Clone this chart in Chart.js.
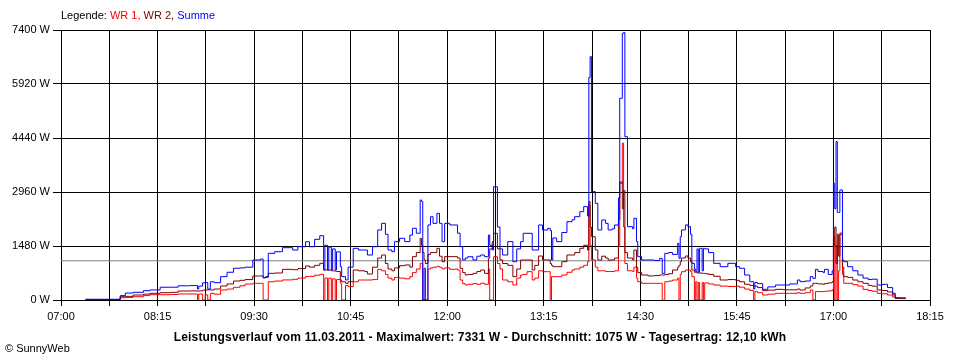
<!DOCTYPE html>
<html>
<head>
<meta charset="utf-8">
<script src="https://cdn.jsdelivr.net/npm/chart.js@4"></script>
<style>
    body { margin: 0; background: #fff; }
    #wrap { position: relative; width: 960px; height: 360px; font-family: "Liberation Sans", Arial, sans-serif; color: #000; }
    #wrap canvas { position: absolute; left: 0; top: 0; }
    .legend { position: absolute; left: 61px; top: 9px; font-size: 11px; }
    .title { position: absolute; left: 0; width: 960px; top: 330px; text-align: center; font-weight: bold; font-size: 12px; letter-spacing: 0.17px; }
    .copy { position: absolute; left: 5px; top: 342px; font-size: 11px; }
</style>
</head>
<body>
<div id="wrap">
    <canvas id="powerChart" width="960" height="360"></canvas>
    <div class="legend">Legende: <span style="color:#ff0000">WR 1,</span> <span style="color:#800000">WR 2,</span> <span style="color:#0000ff">Summe</span></div>
    <div class="title">Leistungsverlauf vom 11.03.2011 - Maximalwert: 7331 W - Durchschnitt: 1075 W - Tagesertrag: 12,10 kWh</div>
    <div class="copy">© SunnyWeb</div>
</div>
<script>
// sample times and power values (W)
let times = ['07:19','07:46','07:50','07:56','08:04','08:09','08:17','08:25','08:31','08:40',
    '08:46','08:47','08:50','08:52','08:54','08:56','08:59','09:04','09:09','09:14',
    '09:19','09:23','09:29','09:35','09:37','09:39','09:41','09:46','09:52','10:00',
    '10:04','10:10','10:13','10:17','10:21','10:24','10:25','10:27','10:28','10:30',
    '10:31','10:33','10:34','10:37','10:38','10:41','10:43','10:47','10:51','10:56',
    '10:58','11:02','11:06','11:09','11:12','11:14','11:17','11:19','11:23','11:27',
    '11:31','11:33','11:36','11:39','11:40','11:41','11:42','11:43','11:45','11:47',
    '11:49','11:52','11:54','11:56','11:58','12:02','12:06','12:08','12:10','12:12',
    '12:14','12:16','12:20','12:23','12:26','12:29','12:32','12:33','12:35','12:36',
    '12:39','12:41','12:43','12:47','12:51','12:54','12:57','12:59','13:02','13:06',
    '13:08','13:11','13:14','13:18','13:20','13:21','13:22','13:25','13:29','13:33',
    '13:37','13:39','13:43','13:46','13:49','13:50','13:51','13:52','13:55','13:57',
    '14:00','14:03','14:05','14:08','14:10','14:13','14:14','14:16','14:17','14:18',
    '14:20','14:24','14:25','14:27','14:28','14:31','14:36','14:41','14:45','14:47',
    '14:49','14:52','14:55','14:59','15:00','15:01','15:02','15:05','15:07','15:09',
    '15:10','15:12','15:13','15:14','15:15','15:16','15:18','15:19','15:20','15:23',
    '15:27','15:32','15:38','15:44','15:47','15:51','15:55','15:58','15:59','16:01',
    '16:05','16:09','16:15','16:21','16:26','16:32','16:34','16:38','16:42','16:44',
    '16:46','16:48','16:52','16:53','16:56','16:59','17:00','17:01','17:02','17:03',
    '17:04','17:05','17:07','17:08','17:11','17:15','17:19','17:23','17:27','17:30',
    '17:34','17:38','17:42','17:46','17:48','17:52','17:56'];

let wr1 = [10,60,70,90,120,145,145,150,165,165,
    0,165,0,140,0,180,160,274,300,348,
    390,438,457,457,0,0,500,520,550,567,
    600,640,650,680,704,0,600,0,600,0,
    580,0,560,457,0,400,366,500,548,548,
    548,560,840,800,700,600,548,620,600,580,
    640,750,850,1005,1000,0,0,0,850,880,
    900,920,896,850,880,840,850,820,548,450,
    411,430,450,430,460,430,850,0,0,1188,
    1000,850,548,500,411,600,685,700,776,548,
    600,800,776,776,0,640,640,640,685,760,
    822,850,900,950,1050,2600,1500,1100,900,800,
    800,780,780,780,800,1500,3200,4300,2000,1000,
    800,780,900,600,500,457,457,457,457,0,
    500,520,548,600,0,700,776,822,822,780,
    640,0,500,0,480,0,480,0,470,440,
    411,380,370,380,350,300,260,0,230,200,
    137,160,183,183,183,200,183,200,274,0,
    230,230,228,240,250,280,1735,0,1500,0,
    800,1836,700,457,457,420,380,292,260,240,
    183,170,137,80,46,40,30];

let wr2 = [10,90,100,137,160,183,200,210,247,250,
    240,250,270,274,280,275,300,384,440,520,
    540,560,658,660,610,620,731,740,840,830,
    860,932,900,950,1005,830,822,820,820,800,
    800,790,780,548,500,457,500,822,800,780,
    713,900,1150,1233,1000,850,800,880,940,960,
    900,1188,1300,1690,1500,1300,1100,1000,1250,1300,
    1300,1417,1200,1050,1188,1188,1188,1150,868,750,
    685,700,730,780,822,730,1150,1400,1600,1828,
    1400,1100,1000,950,640,850,1096,1096,1096,822,
    950,1206,1100,1100,1000,950,913,913,1050,1233,
    1233,1300,1417,1500,1370,2695,2000,1735,1370,1096,
    1200,1150,1096,1100,1150,2200,3234,2500,3000,1300,
    1150,1100,1370,900,750,685,660,670,685,685,
    700,720,822,900,950,1050,1150,1206,1150,1050,
    822,760,760,740,740,740,731,731,720,700,
    650,548,560,540,500,430,400,380,380,340,
    256,270,292,280,280,300,274,330,384,457,
    457,440,430,450,470,502,1500,2000,1000,1800,
    1200,1800,900,640,620,548,500,457,400,380,
    274,260,220,140,46,40,30];

let summe = [20,120,190,210,255,275,350,350,390,395,
    300,380,470,480,300,500,475,640,760,870,
    880,900,1096,1124,610,640,1280,1324,1434,1370,
    1461,1598,1460,1663,1763,822,1500,822,1450,822,
    1400,822,1320,913,640,550,900,1417,1370,1370,
    1233,1461,1919,2101,1800,1370,1324,1598,1690,1600,
    1780,1965,1830,2741,2700,0,870,0,2056,2283,
    2101,2376,2101,1598,2101,2056,2056,1830,1461,1096,
    1150,1187,1096,1200,1233,1187,1782,1500,1370,3106,
    2000,1400,1233,1600,1050,1400,1598,1828,1828,1370,
    1370,2056,1919,1965,1900,1096,1700,1600,1850,2147,
    2200,2284,2421,2558,2300,6100,6670,2970,2650,1919,
    2193,2100,1919,1950,2056,2800,5528,7310,7331,4476,
    2010,1950,2238,1600,1188,1096,1096,1080,1142,731,
    1279,1300,1250,1553,1142,1735,1919,2056,2010,1800,
    1005,850,776,1400,760,1417,800,1417,1400,1300,
    1005,913,1005,913,870,685,502,300,480,450,
    292,360,411,411,440,548,502,520,640,594,
    840,780,750,840,700,800,3197,2500,4340,2400,
    2400,3015,1096,1050,913,800,685,600,560,570,
    411,430,340,183,63,60,50];

let average = 1075;
let dayStart = '07:00',
    dayEnd = '18:15';
let yTicks = [0, 1480, 2960, 4440, 5920, 7400];

function toMinutes(s) {
    let p = s.split(':');
    return parseInt(p[0], 10) * 60 + parseInt(p[1], 10);
}

function fmtTime(m) {
    let h = Math.floor(m / 60),
        mm = Math.round(m % 60);
    return (h < 10 ? '0' : '') + h + ':' + (mm < 10 ? '0' : '') + mm;
}

function points(values) {
    return values.map(function (v, k) {
        return { x: toMinutes(times[k]), y: v };
    });
}

let xMin = toMinutes(dayStart),
    xMax = toMinutes(dayEnd);

Chart.defaults.font.family = '"Liberation Sans", Arial, sans-serif';
Chart.defaults.font.size = 11;
Chart.defaults.color = '#000';

let ctx = document.getElementById('powerChart'),
    myChart = new Chart(ctx, {
        type: 'line',
        data: {
            datasets: [{
                label: 'Summe',
                data: points(summe),
                borderColor: '#0000ff',
                order: 0
            }, {
                label: 'WR 2',
                data: points(wr2),
                borderColor: '#800000',
                order: 1
            }, {
                label: 'WR 1',
                data: points(wr1),
                borderColor: '#ff0000',
                order: 2
            }, {
                label: 'Durchschnitt',
                data: [{ x: xMin, y: average }, { x: xMax, y: average }],
                borderColor: '#808080',
                order: 3
            }]
        },
        options: {
            responsive: false,
            animation: false,
            devicePixelRatio: 1,
            layout: { padding: { left: 0, top: 30, right: 30, bottom: 0 } },
            elements: {
                point: { radius: 0 },
                line: { borderWidth: 1, tension: 0, fill: false, stepped: 'before' }
            },
            plugins: {
                legend: { display: false },
                tooltip: { enabled: false },
                title: { display: false }
            },
            scales: {
                x: {
                    type: 'linear',
                    min: xMin,
                    max: xMax,
                    afterFit: function (s) { s.height = 60; },
                    grid: { color: '#000', lineWidth: 1, tickLength: 6 },
                    border: { color: '#000' },
                    ticks: {
                        stepSize: 37.5,
                        autoSkip: false,
                        maxRotation: 0,
                        padding: 4,
                        callback: function (v) {
                            return (v - xMin) % 75 === 0 ? fmtTime(v) : '';
                        }
                    }
                },
                y: {
                    min: 0,
                    max: yTicks[yTicks.length - 1],
                    afterFit: function (s) { s.width = 61; },
                    afterBuildTicks: function (s) {
                        s.ticks = yTicks.map(function (v) { return { value: v }; });
                    },
                    grid: { color: '#000', lineWidth: 1, tickLength: 8 },
                    border: { color: '#000' },
                    ticks: {
                        padding: 3,
                        callback: function (v) { return v + ' W'; }
                    }
                }
            }
        }
    });
</script>
</body>
</html>
